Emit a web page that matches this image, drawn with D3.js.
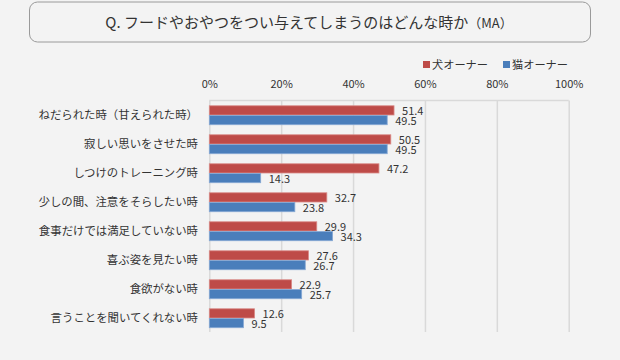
<!DOCTYPE html>
<html><head><meta charset="utf-8">
<script src="https://cdn.jsdelivr.net/npm/d3@7"></script>
<style>
html,body{margin:0;padding:0;background:#f3f3f3;}
svg{display:block;}
text{font-family:"Noto Sans CJK JP","Noto Sans",sans-serif;fill:#333;}
</style></head>
<body>
<script>
const categories = ["ねだられた時（甘えられた時）","寂しい思いをさせた時","しつけのトレーニング時","少しの間、注意をそらしたい時","食事だけでは満足していない時","喜ぶ姿を見たい時","食欲がない時","言うことを聞いてくれない時"];
const dogValues = [51.4,50.5,47.2,32.7,29.9,27.6,22.9,12.6];
const catValues = [49.5,49.5,14.3,23.8,34.3,26.7,25.7,9.5];
const seriesNames = ["犬オーナー","猫オーナー"];
const tickValues = [0,20,40,60,80,100];
const colors = ["#be4b48","#4a7ebb"];
const strokes = ["#d98a87","#86a8d4"];

const W=620,H=360;
const svg=d3.select("body").append("svg").attr("width",W).attr("height",H);
svg.append("rect").attr("width",W).attr("height",H).attr("fill","#f3f3f3");

// title box
svg.append("rect").attr("x",29.5).attr("y",2).attr("width",561).attr("height",40)
  .attr("rx",8).attr("fill","#f3f3f3").attr("stroke","#9a9a9a").attr("stroke-width",1);
const t=svg.append("text").attr("x",309).attr("y",28).attr("text-anchor","middle").attr("font-size",15).attr("fill","#3a3a3a");
t.append("tspan").text("Q. フードやおやつをつい与えてしまうのはどんな時か");
t.append("tspan").attr("font-size",13).text("（MA）");

const x=d3.scaleLinear().domain([0,100]).range([209.3,568.7]);
const y=d3.scaleBand().domain(categories).range([100.5,332.5]).paddingInner(0.33).paddingOuter(0.165);
const sub=d3.scaleBand().domain([0,1]).range([0,y.bandwidth()]);

// gridlines
const grid=svg.append("g").attr("transform","translate(0,100.5)")
  .call(d3.axisBottom(x).tickValues(tickValues).tickSize(231.5).tickFormat(""));
grid.select(".domain").remove();
grid.selectAll("line").attr("stroke","#d9d9d9").attr("stroke-width",1.5);
svg.append("line").attr("x1",x(0)).attr("x2",x(100)).attr("y1",100.5).attr("y2",100.5)
  .attr("stroke","#d9d9d9").attr("stroke-width",1.5);

// x axis labels
const ax=svg.append("g").attr("transform","translate(0,100.5)")
  .call(d3.axisTop(x).tickValues(tickValues).tickSize(0).tickPadding(13).tickFormat(d=>d+"%"));
ax.select(".domain").remove();
ax.selectAll("text").attr("font-size",11).attr("font-family",'"Noto Sans","Noto Sans CJK JP",sans-serif').attr("fill","#333");

// category labels
const ay=svg.append("g").attr("transform","translate(198,0)")
  .call(d3.axisLeft(y).tickSize(0).tickPadding(0));
ay.select(".domain").remove();
ay.selectAll("text").attr("font-size",11.4).attr("font-family",'"Noto Sans CJK JP",sans-serif').attr("fill","#333").attr("dy","0.36em");

const series=[dogValues,catValues];
series.forEach((vals,si)=>{
  const g=svg.append("g");
  g.selectAll("rect").data(vals).enter().append("rect")
    .attr("x",x(0)).attr("y",(d,i)=>y(categories[i])+sub(si)+0.5)
    .attr("width",d=>x(d)-x(0)).attr("height",sub.bandwidth()-0.5)
    .attr("fill",colors[si]).attr("stroke",strokes[si]).attr("stroke-width",0.8);
  g.selectAll("text").data(vals).enter().append("text")
    .attr("x",d=>x(d)+8).attr("y",(d,i)=>y(categories[i])+sub(si)+sub.bandwidth()/2+1.5)
    .attr("dy","0.35em").attr("font-size",11).attr("font-family",'"Noto Sans",sans-serif')
    .attr("fill","#222").text(d=>d.toFixed(1));
});

// legend
const lg=svg.append("g");
[[423,0],[503,1]].forEach(([lx,i])=>{
  lg.append("rect").attr("x",lx).attr("y",61).attr("width",7).attr("height",7).attr("fill",colors[i]);
  lg.append("text").attr("x",lx+9).attr("y",65).attr("dy","0.36em").attr("font-size",11.2).text(seriesNames[i]);
});
</script>
</body></html>
